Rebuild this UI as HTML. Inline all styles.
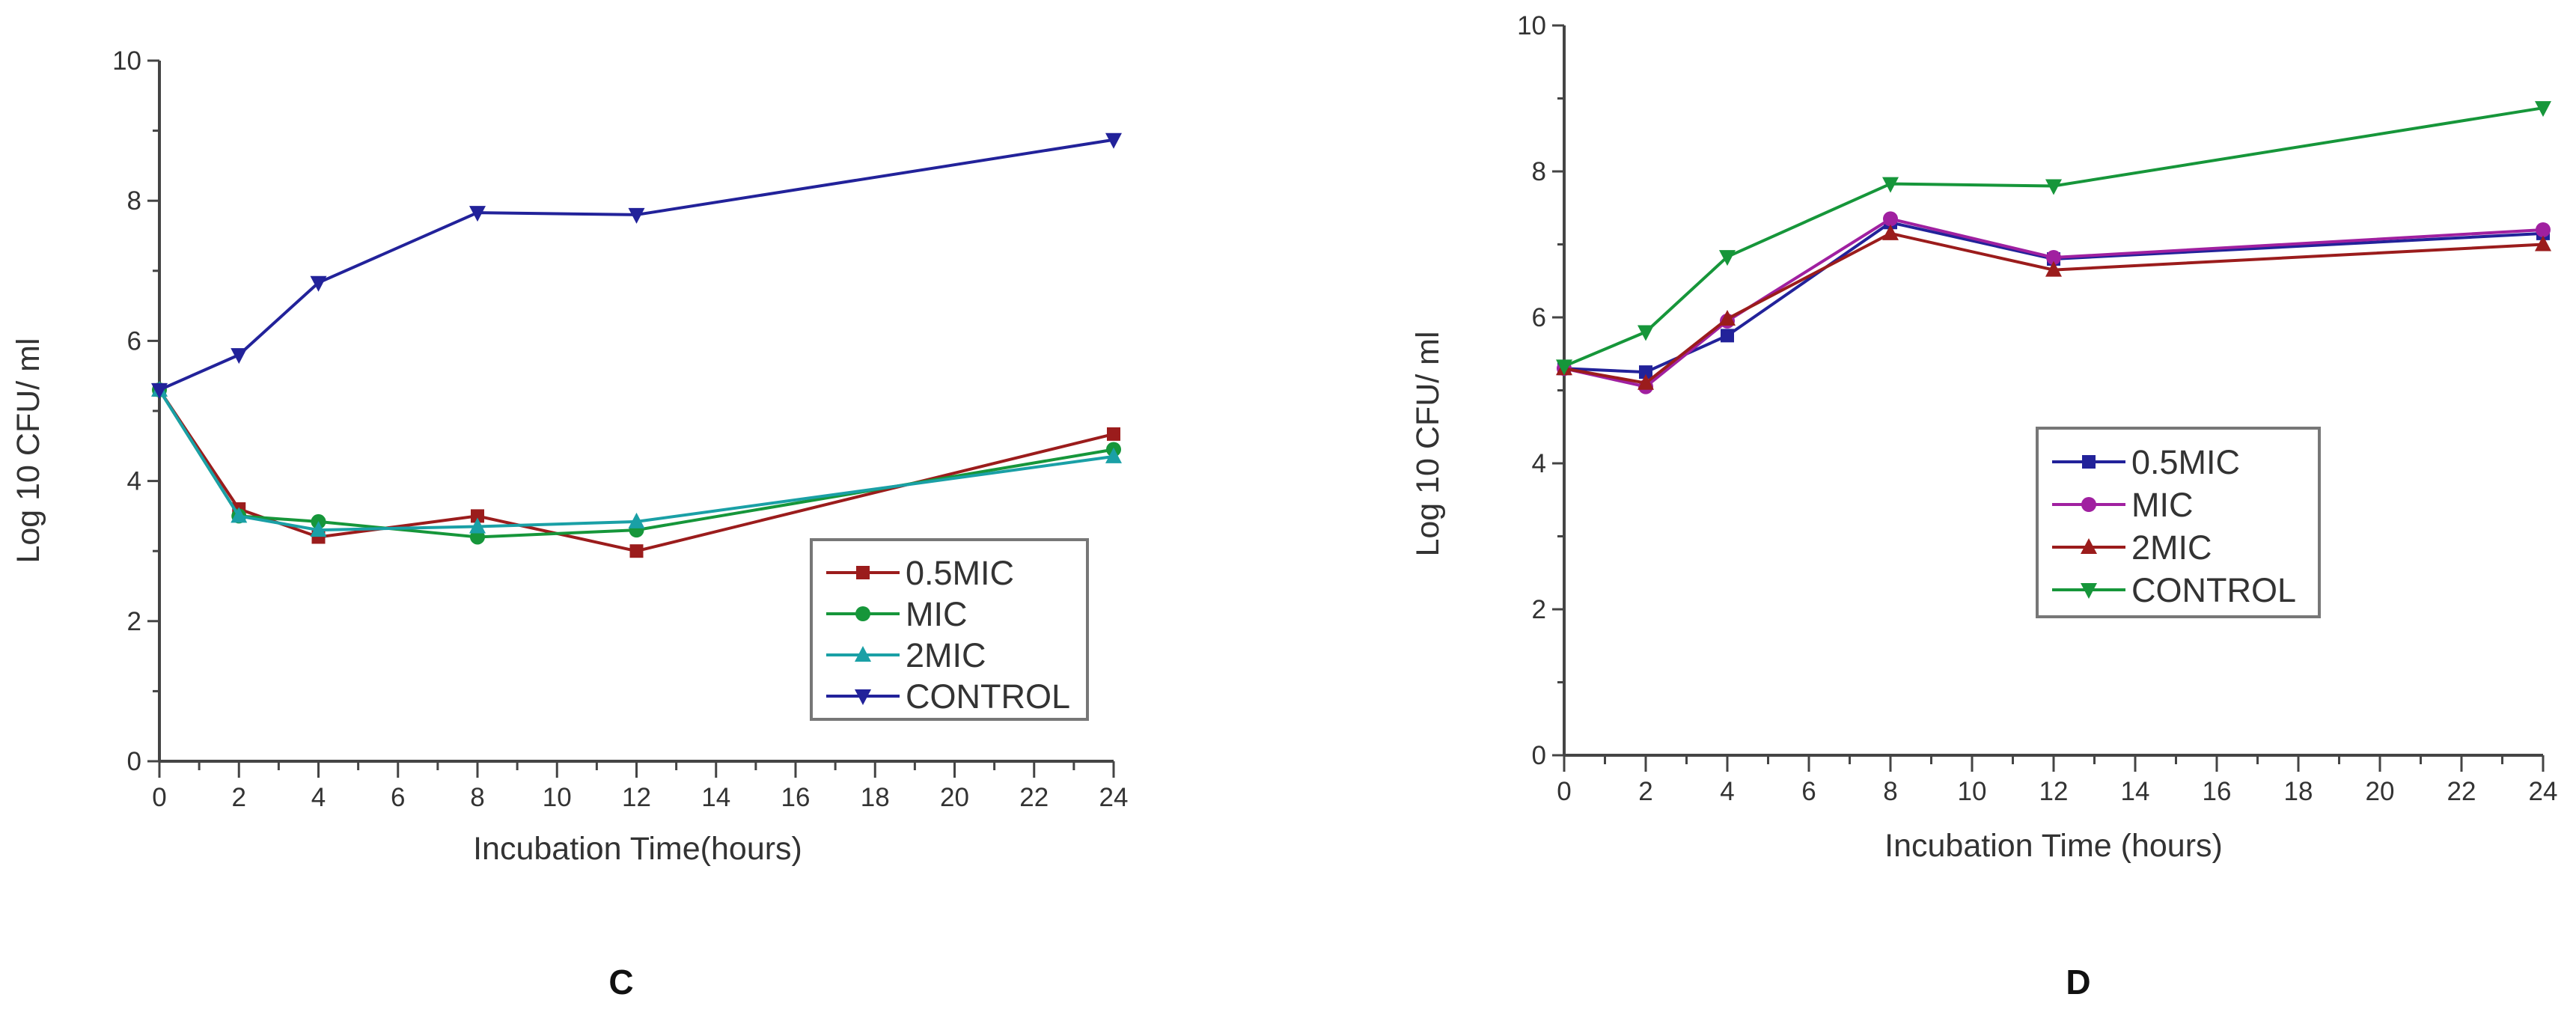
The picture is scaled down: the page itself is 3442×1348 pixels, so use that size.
<!DOCTYPE html>
<html><head><meta charset="utf-8"><style>
html,body{margin:0;padding:0;background:#fff;}
svg{display:block;font-family:"Liberation Sans",Arial,sans-serif;}
</style></head><body>
<svg id="fig" width="3442" height="1348" viewBox="0 0 3442 1348" xmlns="http://www.w3.org/2000/svg"></svg>
<script>
const hours = [0, 2, 4, 8, 12, 24];
const seriesNames = ['0.5MIC', 'MIC', '2MIC', 'CONTROL'];
const xTickLabels = ['0','2','4','6','8','10','12','14','16','18','20','22','24'];
const yTickLabels = ['0','2','4','6','8','10'];
// Panel C values
const cHalfMic = [5.3, 3.6, 3.2, 3.5, 3.0, 4.67];
const cMic     = [5.3, 3.5, 3.42, 3.2, 3.3, 4.45];
const c2Mic    = [5.3, 3.5, 3.3, 3.35, 3.42, 4.35];
const cControl = [5.3, 5.8, 6.83, 7.83, 7.8, 8.87];
// Panel D values
const dHalfMic = [5.3, 5.25, 5.75, 7.3, 6.8, 7.15];
const dMic     = [5.3, 5.05, 5.95, 7.35, 6.82, 7.2];
const d2Mic    = [5.3, 5.1, 5.98, 7.15, 6.65, 7.0];
const dControl = [5.33, 5.8, 6.83, 7.83, 7.8, 8.87];

const NS = 'http://www.w3.org/2000/svg';
const svg = document.getElementById('fig');
function mk(tag, attrs, parent) {
  const e = document.createElementNS(NS, tag);
  for (const k in attrs) e.setAttribute(k, attrs[k]);
  (parent || svg).appendChild(e);
  return e;
}
function marker(g, shape, x, y, color) {
  const s = 9;
  let m;
  if (shape === 'square') m = mk('rect', {x: x - s, y: y - s, width: 2 * s, height: 2 * s, fill: color}, g);
  else if (shape === 'circle') m = mk('circle', {cx: x, cy: y, r: s + 1, fill: color}, g);
  else if (shape === 'up') m = mk('polygon', {points: `${x},${y - s - 3} ${x - s - 2},${y + s} ${x + s + 2},${y + s}`, fill: color}, g);
  else m = mk('polygon', {points: `${x},${y + s + 3} ${x - s - 2},${y - s} ${x + s + 2},${y - s}`, fill: color}, g);
  
  
  return m;
}
function panel(cfg) {
  const g = mk('g', {});
  
  
  const sx = v => cfg.x0 + (cfg.x1 - cfg.x0) * v / 24;
  const sy = v => cfg.y0 - (cfg.y0 - cfg.y1) * v / 10;
  const axisCol = '#444';
  // axes
  const ya = mk('line', {x1: cfg.x0, y1: cfg.y0, x2: cfg.x0, y2: cfg.y1, stroke: axisCol, 'stroke-width': 4}, g);
  
  
  const xa = mk('line', {x1: cfg.x0, y1: cfg.y0, x2: cfg.x1, y2: cfg.y0, stroke: axisCol, 'stroke-width': 4}, g);
  
  
  for (let v = 0; v <= 24; v++) {
    const maj = v % 2 === 0;
    mk('line', {x1: sx(v), y1: cfg.y0, x2: sx(v), y2: cfg.y0 + (maj ? 22 : 12), stroke: axisCol, 'stroke-width': 3}, g);
  }
  xTickLabels.forEach((t, i) => {
    const tx = mk('text', {x: sx(+t), y: cfg.y0 + 60, 'font-size': 35, fill: '#333', 'text-anchor': 'middle'}, g);
    tx.textContent = t;
    
    
  });
  for (let v = 0; v <= 10; v++) {
    const maj = v % 2 === 0;
    mk('line', {x1: cfg.x0, y1: sy(v), x2: cfg.x0 - (maj ? 16 : 9), y2: sy(v), stroke: axisCol, 'stroke-width': 3}, g);
  }
  yTickLabels.forEach(t => {
    const tx = mk('text', {x: cfg.x0 - 24, y: sy(+t) + 12, 'font-size': 35, fill: '#333', 'text-anchor': 'end'}, g);
    tx.textContent = t;
    
    
  });
  const xt = mk('text', {x: cfg.xtX, y: cfg.xtY, 'font-size': 43, fill: '#333', 'text-anchor': 'middle'}, g);
  xt.textContent = cfg.xTitle;
  
  
  const yt = mk('text', {x: 0, y: 0, 'font-size': 43, fill: '#333', 'text-anchor': 'middle', transform: `translate(${cfg.ytX},${cfg.ytY}) rotate(-90)`}, g);
  yt.textContent = 'Log 10 CFU/ ml';
  
  
  // series
  cfg.series.forEach((s, si) => {
    const sg = mk('g', {}, g);
    
    
    const pts = s.vals.map((v, i) => sx(hours[i]) + ',' + sy(v)).join(' ');
    mk('polyline', {points: pts, fill: 'none', stroke: s.color, 'stroke-width': 4}, sg);
    s.vals.forEach((v, i) => marker(sg, s.shape, sx(hours[i]), sy(v), s.color));
  });
  // legend
  const L = cfg.legend;
  const lg = mk('g', {}, g);
  
  
  mk('rect', {x: L.x, y: L.y, width: L.w, height: L.h, fill: '#fff', stroke: '#777', 'stroke-width': 4}, lg);
  cfg.series.forEach((s, si) => {
    const ey = L.y + L.first + si * L.step;
    const eg = mk('g', {}, lg);
    
    
    mk('line', {x1: L.x + 20, y1: ey, x2: L.x + 118, y2: ey, stroke: s.color, 'stroke-width': 4}, eg);
    marker(eg, s.shape, L.x + 69, ey, s.color);
    const t = mk('text', {x: L.x + 126, y: ey + 16, 'font-size': 45, fill: '#333'}, eg);
    t.textContent = seriesNames[si];
  });
  const lab = mk('text', {x: cfg.labX, y: 1328, 'font-size': 46, 'font-weight': 'bold', fill: '#111', 'text-anchor': 'middle'}, g);
  lab.textContent = cfg.label;
  
  
}
panel({
  name: 'chart-c', x0: 213, x1: 1488, y0: 1017, y1: 81,
  xTitle: 'Incubation Time(hours)', xtX: 852, xtY: 1148, ytX: 52, ytY: 602,
  label: 'C', labX: 830,
  series: [
    {vals: cHalfMic, color: '#9b1c1c', shape: 'square'},
    {vals: cMic, color: '#16963a', shape: 'circle'},
    {vals: c2Mic, color: '#1aa0a6', shape: 'up'},
    {vals: cControl, color: '#22229a', shape: 'down'}
  ],
  legend: {x: 1084, y: 721, w: 369, h: 240, first: 44, step: 55}
});
panel({
  name: 'chart-d', x0: 2090, x1: 3398, y0: 1009, y1: 34,
  xTitle: 'Incubation Time (hours)', xtX: 2744, xtY: 1144, ytX: 1922, ytY: 593,
  label: 'D', labX: 2777,
  series: [
    {vals: dHalfMic, color: '#22229a', shape: 'square'},
    {vals: dMic, color: '#a020a0', shape: 'circle'},
    {vals: d2Mic, color: '#9b1c1c', shape: 'up'},
    {vals: dControl, color: '#16963a', shape: 'down'}
  ],
  legend: {x: 2722, y: 572, w: 377, h: 252, first: 45, step: 57}
});
</script>
</body></html>
